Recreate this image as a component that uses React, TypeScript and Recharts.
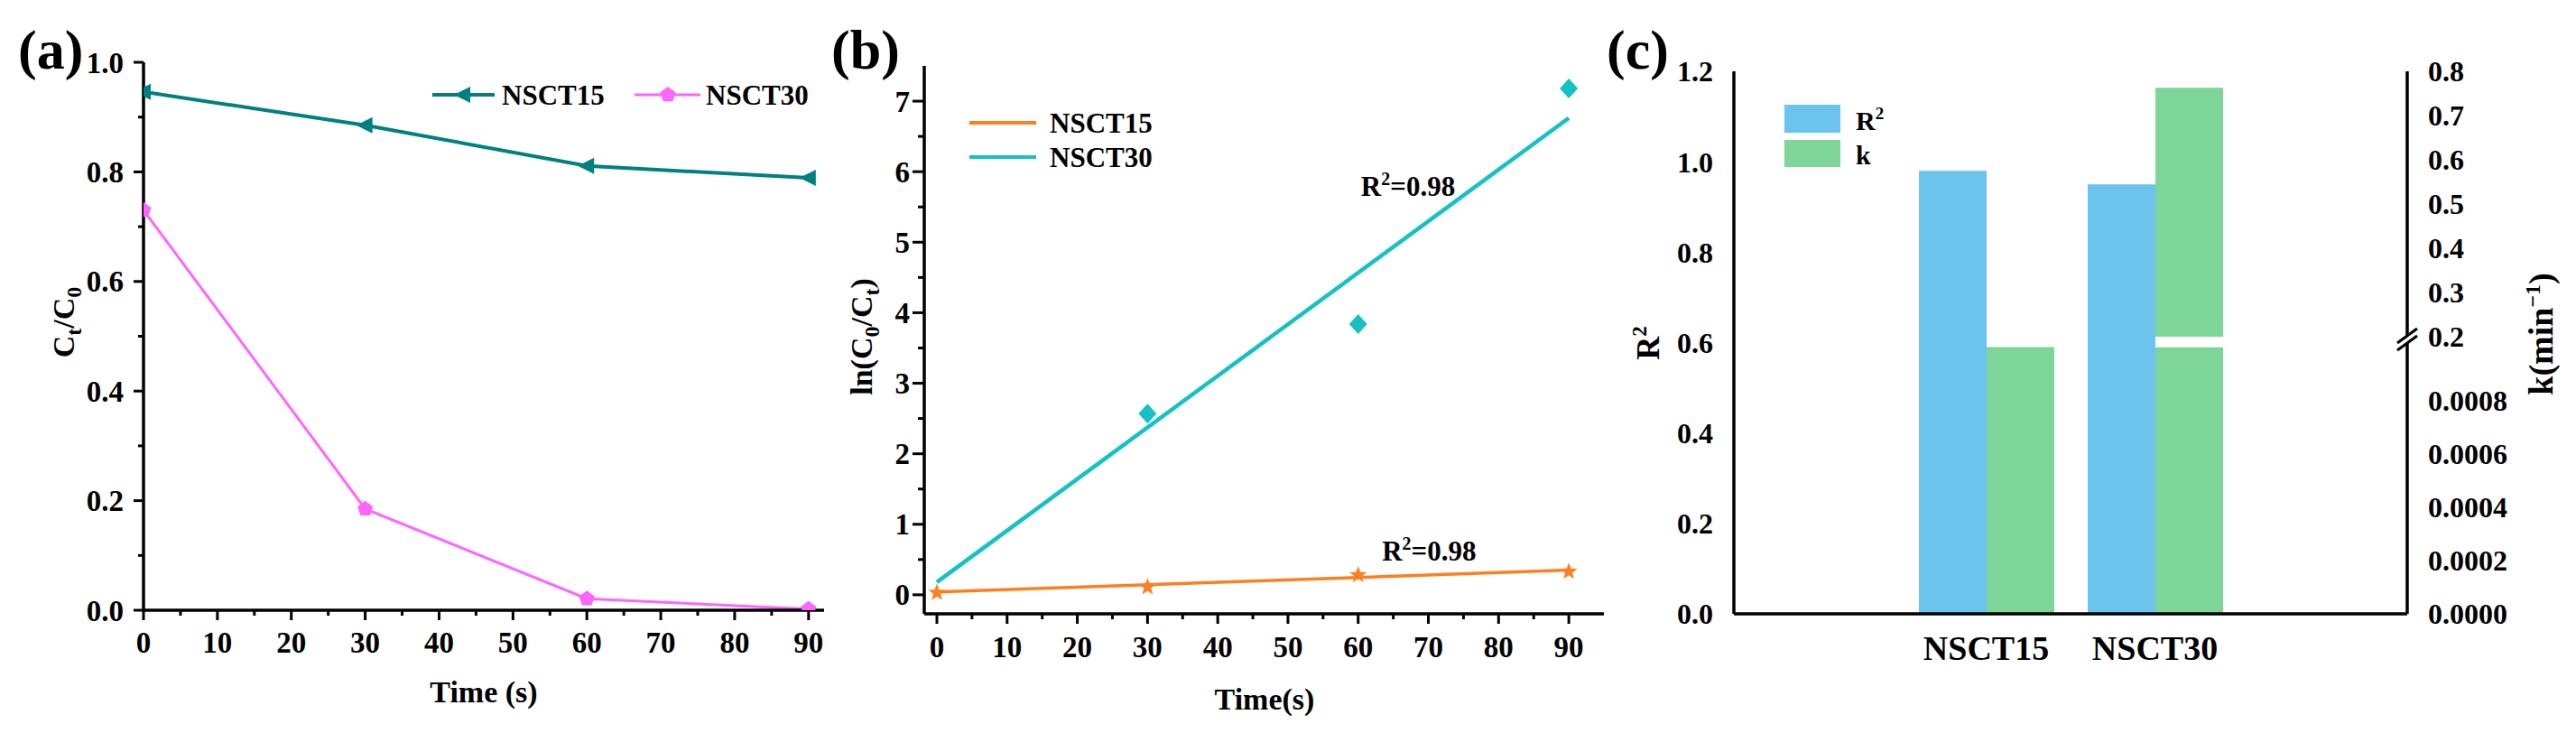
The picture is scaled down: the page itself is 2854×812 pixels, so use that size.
import React from "react";
import { LineChart, Line, ComposedChart, Scatter, BarChart, Bar, XAxis, YAxis, Legend, ReferenceDot } from "recharts";

const FONT = "Liberation Serif, Times New Roman, Times, serif";

// (a) Ct/C0 vs time
const TIME = [0, 30, 60, 90];
const CT_NSCT15 = [0.946, 0.885, 0.811, 0.789];
const CT_NSCT30 = [0.73, 0.185, 0.021, 0.002];
const A_X_TICKS = [0, 5, 10, 15, 20, 25, 30, 35, 40, 45, 50, 55, 60, 65, 70, 75, 80, 85, 90];
const A_Y_TICKS = [0, 0.1, 0.2, 0.3, 0.4, 0.5, 0.6, 0.7, 0.8, 0.9, 1.0];

// (b) ln(C0/Ct) vs time, points + linear fits
const LN_NSCT15 = [0.03, 0.11, 0.28, 0.33];
const LN30_TIME = [30, 60, 90];
const LN_NSCT30 = [2.57, 3.84, 7.18];
const FIT_TIME = [0, 90];
const FIT_NSCT15 = [0.04, 0.35];
const FIT_NSCT30 = [0.18, 6.76];
const B_Y_TICKS = [0, 0.5, 1, 1.5, 2, 2.5, 3, 3.5, 4, 4.5, 5, 5.5, 6, 6.5, 7];

// (c) R2 and k per sample
const SAMPLES = ["NSCT15", "NSCT30"];
const R2 = [0.98, 0.95];
const K = [0.001, 0.763];
const R2_TICKS = [0, 0.2, 0.4, 0.6, 0.8, 1.0, 1.2];
const K_TICKS = [0, 0.0002, 0.0004, 0.0006, 0.0008, 0.2, 0.3, 0.4, 0.5, 0.6, 0.7, 0.8];
const K_TICK_LABELS = ["0.0000", "0.0002", "0.0004", "0.0006", "0.0008", "0.2", "0.3", "0.4", "0.5", "0.6", "0.7", "0.8"];

const TEAL = "#008080";
const PINK = "#FF66FF";
const ORANGE = "#FF7F1E";
const CYAN = "#14C1C4";
const BLUE = "#6AC4EE";
const GREEN = "#7DD597";
const AXIS_LINE = { stroke: "#000", strokeWidth: 3.5 };
const TXT = { fontFamily: FONT, fontWeight: 700, fill: "#000", style: { fontFamily: FONT } } as const;

// broken right axis of (c): 0..0.001 below the break, 0.2..0.8 above it
const K_LOW_MAX = 0.001;
const K_HIGH_MIN = 0.2;
const brk = (k: number) => (k <= K_LOW_MAX ? k * 590 : 0.613 + (k - K_HIGH_MIN) * 0.978);

const aData = TIME.map((t, i) => ({ t, nsct15: CT_NSCT15[i], nsct30: CT_NSCT30[i] }));
const b15 = TIME.map((t, i) => ({ t, v: LN_NSCT15[i] }));
const b30 = LN30_TIME.map((t, i) => ({ t, v: LN_NSCT30[i] }));
const fit15 = FIT_TIME.map((t, i) => ({ t, v: FIT_NSCT15[i] }));
const fit30 = FIT_TIME.map((t, i) => ({ t, v: FIT_NSCT30[i] }));
const cData = SAMPLES.map((name, i) => {
  const k = K[i];
  const low = brk(Math.min(k, K_LOW_MAX));
  const broken = k > K_LOW_MAX;
  return {
    name,
    r2: R2[i],
    kLow: low,
    kGap: broken ? brk(K_HIGH_MIN) - low : 0,
    kHigh: broken ? brk(k) - brk(K_HIGH_MIN) : 0,
  };
});

// marker paths
const triLeft = (cx: number, cy: number) => `M${cx - 10},${cy}L${cx + 8},${cy - 9}L${cx + 8},${cy + 9}Z`;
const polyPath = (cx: number, cy: number, n: number, R: number, r?: number) => {
  let d = "";
  const pts = r ? n * 2 : n;
  for (let i = 0; i < pts; i++) {
    const a = -Math.PI / 2 + (i * 2 * Math.PI) / pts;
    const rad = r && i % 2 ? r : R;
    d += (i ? "L" : "M") + (cx + rad * Math.cos(a)).toFixed(2) + "," + (cy + rad * Math.sin(a)).toFixed(2);
  }
  return d + "Z";
};
const diamond = (cx: number, cy: number) => `M${cx},${cy - 11}L${cx + 10},${cy}L${cx},${cy + 11}L${cx - 10},${cy}Z`;

const isMajor = (v: number, step: number) => Math.abs(v / step - Math.round(v / step)) < 1e-6;

// ticks drawn by hand so minor ticks get no label (axis uses tickSize 0 / tickMargin 0)
const leftTick = (step: number, digits: number, major: number, minor: number, gap: number) => (p: any) => {
  const { x, y, payload } = p;
  const m = isMajor(payload.value, step);
  return (
    <g>
      <line x1={x - (m ? major : minor)} x2={x} y1={y} y2={y} stroke="#000" strokeWidth={3} />
      {m && (
        <text x={x - major - gap} y={y} dy="0.35em" textAnchor="end" fontSize={33} {...TXT}>
          {payload.value.toFixed(digits)}
        </text>
      )}
    </g>
  );
};
const bottomTick = (step: number, major: number, minor: number, base: number) => (p: any) => {
  const { x, y, payload } = p;
  const m = isMajor(payload.value, step);
  return (
    <g>
      <line x1={x} x2={x} y1={y} y2={y + (m ? major : minor)} stroke="#000" strokeWidth={3} />
      {m && (
        <text x={x} y={y + base} textAnchor="middle" fontSize={33} {...TXT}>
          {payload.value}
        </text>
      )}
    </g>
  );
};

function PanelA() {
  const legend = () => (
    <svg width={440} height={40} style={{ display: "block", overflow: "visible" }}>
      <line x1={9} x2={78} y1={20} y2={20} stroke={TEAL} strokeWidth={4} />
      <path d={triLeft(43, 20)} fill={TEAL} />
      <text x={86} y={31} fontSize={31} {...TXT}>NSCT15</text>
      <line x1={233} x2={306} y1={20} y2={20} stroke={PINK} strokeWidth={3} />
      <path d={polyPath(270, 20, 5, 9)} fill={PINK} />
      <text x={312} y={31} fontSize={31} {...TXT}>NSCT30</text>
    </svg>
  );
  return (
    <div style={{ position: "absolute", left: 0, top: 0 }}>
      <LineChart width={960} height={812} data={aData} margin={{ top: 69, right: 47, bottom: 56, left: 59 }}>
        <XAxis
          type="number"
          dataKey="t"
          domain={[0, 92.1]}
          allowDataOverflow
          ticks={A_X_TICKS}
          interval={0}
          tickSize={0}
          tickMargin={0}
          tickLine={false}
          tick={bottomTick(10, 11, 6, 47)}
          axisLine={AXIS_LINE}
          height={80}
          label={{
            content: () => (
              <text x={536} y={778} textAnchor="middle" fontSize={34} {...TXT}>Time (s)</text>
            ),
          }}
        />
        <XAxis xAxisId="top" orientation="top" type="number" domain={[0, 92.1]} tick={false} tickLine={false} height={0} axisLine={AXIS_LINE} />
        <YAxis
          type="number"
          domain={[0, 1]}
          allowDataOverflow
          ticks={A_Y_TICKS}
          interval={0}
          tickSize={0}
          tickMargin={0}
          tickLine={false}
          tick={leftTick(0.2, 1, 11, 6, 11)}
          axisLine={AXIS_LINE}
          width={100}
          label={{
            content: () => (
              <g>
                <text x={20} y={76} fontSize={62} {...TXT}>(a)</text>
                <text transform="translate(82,357) rotate(-90)" textAnchor="middle" fontSize={34} {...TXT}>
                  C<tspan dy={8} fontSize={24}>t</tspan>
                  <tspan dy={-8}>/C</tspan>
                  <tspan dy={8} fontSize={24}>0</tspan>
                </text>
              </g>
            ),
          }}
        />
        <YAxis yAxisId="right" orientation="right" type="number" domain={[0, 1]} tick={false} tickLine={false} width={0} axisLine={AXIS_LINE} />
        <Legend layout="vertical" align="center" verticalAlign="middle" content={legend} wrapperStyle={{ left: 470, top: 85, width: 440, height: 40 }} />
        <Line
          dataKey="nsct15"
          stroke={TEAL}
          strokeWidth={4}
          isAnimationActive={false}
          dot={(p: any) => <path key={`a15-${p.index}`} d={triLeft(p.cx, p.cy)} fill={TEAL} />}
        />
        <Line
          dataKey="nsct30"
          stroke={PINK}
          strokeWidth={3}
          isAnimationActive={false}
          dot={(p: any) => <path key={`a30-${p.index}`} d={polyPath(p.cx, p.cy, 5, 9)} fill={PINK} />}
        />
      </LineChart>
    </div>
  );
}

const R2Note = (p: any) => {
  const { viewBox } = p;
  return (
    <text x={viewBox.x} y={viewBox.y} dy="0.35em" fontSize={31} {...TXT}>
      R<tspan dy={-12} fontSize={20}>2</tspan>
      <tspan dy={12}>=0.98</tspan>
    </text>
  );
};

function PanelB() {
  const legend = () => (
    <svg width={240} height={90} style={{ display: "block", overflow: "visible" }}>
      <line x1={9} x2={83} y1={26} y2={26} stroke={ORANGE} strokeWidth={4} />
      <text x={98} y={37} fontSize={31} {...TXT}>NSCT15</text>
      <line x1={9} x2={83} y1={64} y2={64} stroke={CYAN} strokeWidth={4} />
      <text x={98} y={75} fontSize={31} {...TXT}>NSCT30</text>
    </svg>
  );
  return (
    <div style={{ position: "absolute", left: 915, top: 0 }}>
      <ComposedChart width={880} height={812} margin={{ top: 73, right: 18, bottom: 52, left: 49 }}>
        <XAxis
          type="number"
          dataKey="t"
          domain={[-1.8, 95]}
          allowDataOverflow
          ticks={A_X_TICKS}
          interval={0}
          tickSize={0}
          tickMargin={0}
          tickLine={false}
          tick={bottomTick(10, 11, 6, 48)}
          axisLine={AXIS_LINE}
          height={80}
          label={{
            content: () => (
              <text x={486} y={786} textAnchor="middle" fontSize={34} {...TXT}>Time(s)</text>
            ),
          }}
        />
        <XAxis xAxisId="top" orientation="top" type="number" domain={[-1.8, 95]} tick={false} tickLine={false} height={0} axisLine={AXIS_LINE} />
        <YAxis
          type="number"
          domain={[-0.27, 7.5]}
          allowDataOverflow
          ticks={B_Y_TICKS}
          interval={0}
          tickSize={0}
          tickMargin={0}
          tickLine={false}
          tick={leftTick(1, 0, 13, 7, 3)}
          axisLine={AXIS_LINE}
          width={60}
          label={{
            content: () => (
              <g>
                <text x={6} y={76} fontSize={62} {...TXT}>(b)</text>
                <text transform="translate(51,373) rotate(-90)" textAnchor="middle" fontSize={34} {...TXT}>
                  ln(C<tspan dy={8} fontSize={24}>0</tspan>
                  <tspan dy={-8}>/C</tspan>
                  <tspan dy={8} fontSize={24}>t</tspan>
                  <tspan dy={-8}>)</tspan>
                </text>
              </g>
            ),
          }}
        />
        <YAxis yAxisId="right" orientation="right" type="number" domain={[-0.27, 7.5]} tick={false} tickLine={false} width={0} axisLine={AXIS_LINE} />
        <Legend layout="vertical" align="center" verticalAlign="middle" content={legend} wrapperStyle={{ left: 150, top: 110, width: 240, height: 90 }} />
        <Line data={fit30} dataKey="v" stroke={CYAN} strokeWidth={4.5} dot={false} isAnimationActive={false} />
        <Line data={fit15} dataKey="v" stroke={ORANGE} strokeWidth={3.5} dot={false} isAnimationActive={false} />
        <Scatter data={b30} dataKey="v" isAnimationActive={false} shape={(p: any) => <path d={diamond(p.cx, p.cy)} fill={CYAN} />} />
        <Scatter data={b15} dataKey="v" isAnimationActive={false} shape={(p: any) => <path d={polyPath(p.cx, p.cy, 5, 10, 4.2)} fill={ORANGE} />} />
        <ReferenceDot x={60.4} y={5.8} r={0} label={R2Note} />
        <ReferenceDot x={63.4} y={0.63} r={0} label={R2Note} />
      </ComposedChart>
    </div>
  );
}

function PanelC() {
  const legend = () => (
    <svg width={160} height={90} style={{ display: "block", overflow: "visible" }}>
      <rect x={7} y={11} width={62} height={31} fill={BLUE} />
      <rect x={7} y={50} width={62} height={30} fill={GREEN} />
      <text x={86} y={39} fontSize={30} {...TXT}>
        R<tspan dy={-12} fontSize={19}>2</tspan>
      </text>
      <text x={86} y={77} fontSize={30} {...TXT}>k</text>
    </svg>
  );
  return (
    <div style={{ position: "absolute", left: 1770, top: 0 }}>
      <BarChart width={1084} height={812} data={cData} barGap={0} margin={{ top: 79, right: 37, bottom: 52, left: 91 }}>
        <XAxis
          dataKey="name"
          padding={{ left: 186, right: 186 }}
          tickLine={false}
          tickSize={0}
          tickMargin={24}
          interval={0}
          tick={{ fontSize: 38, ...TXT }}
          axisLine={AXIS_LINE}
          height={80}
        />
        <XAxis xAxisId="top" orientation="top" type="number" domain={[0, 1]} tick={false} tickLine={false} height={0} axisLine={AXIS_LINE} />
        <YAxis
          yAxisId="left"
          type="number"
          domain={[0, 1.2]}
          allowDataOverflow
          ticks={R2_TICKS}
          interval={0}
          tickLine={false}
          tickSize={0}
          tickMargin={23}
          tickFormatter={(v: number) => v.toFixed(1)}
          tick={{ fontSize: 32, ...TXT }}
          axisLine={AXIS_LINE}
          width={60}
          label={{
            content: () => (
              <g>
                <text x={10} y={76} fontSize={62} {...TXT}>(c)</text>
                <text transform="translate(68,380) rotate(-90)" textAnchor="middle" fontSize={36} {...TXT}>
                  R<tspan dy={-14} fontSize={23}>2</tspan>
                </text>
              </g>
            ),
          }}
        />
        <YAxis
          yAxisId="right"
          orientation="right"
          type="number"
          domain={[0, 1.2]}
          allowDataOverflow
          ticks={K_TICKS.map(brk)}
          interval={0}
          tickLine={false}
          tickSize={0}
          tickMargin={23}
          tickFormatter={(_v: number, i: number) => K_TICK_LABELS[i]}
          tick={{ fontSize: 32, ...TXT }}
          axisLine={AXIS_LINE}
          width={150}
          label={{
            content: () => (
              <g>
                <polygon points="886,388 908,372 908,364 886,380" fill="#fff" />
                <line x1={886} y1={388} x2={908} y2={372} stroke="#000" strokeWidth={3} />
                <line x1={886} y1={380} x2={908} y2={364} stroke="#000" strokeWidth={3} />
                <text transform="translate(1058,370) rotate(-90)" textAnchor="middle" fontSize={38} {...TXT}>
                  k(min<tspan dy={-14} fontSize={24}>−1</tspan>
                  <tspan dy={14}>)</tspan>
                </text>
              </g>
            ),
          }}
        />
        <Legend layout="vertical" align="center" verticalAlign="middle" content={legend} wrapperStyle={{ left: 200, top: 105, width: 160, height: 90 }} />
        <Bar yAxisId="left" dataKey="r2" stackId="r" fill={BLUE} barSize={75} isAnimationActive={false} />
        <Bar yAxisId="right" dataKey="kLow" stackId="k" fill={GREEN} barSize={75} isAnimationActive={false} />
        <Bar yAxisId="right" dataKey="kGap" stackId="k" fill="#fff" barSize={75} isAnimationActive={false} />
        <Bar yAxisId="right" dataKey="kHigh" stackId="k" fill={GREEN} barSize={75} isAnimationActive={false} />
      </BarChart>
    </div>
  );
}

export default function App() {
  return (
    <div
      style={{
        position: "absolute",
        left: 0,
        top: 0,
        width: 2854,
        height: 812,
        background: "#fff",
        overflow: "hidden",
        fontFamily: FONT,
      }}
    >
      <PanelA />
      <PanelB />
      <PanelC />
    </div>
  );
}
